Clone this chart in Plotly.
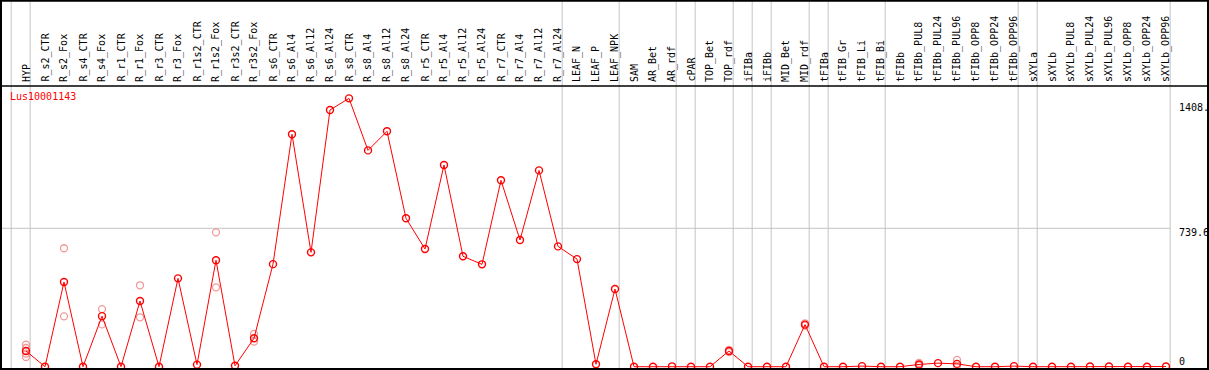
import plotly.graph_objects as go

categories = ["HYP", "R_s2_CTR", "R_s2_Fox", "R_s4_CTR", "R_s4_Fox", "R_r1_CTR", "R_r1_Fox",
              "R_r3_CTR", "R_r3_Fox", "R_r1s2_CTR", "R_r1s2_Fox", "R_r3s2_CTR", "R_r3s2_Fox",
              "R_s6_CTR", "R_s6_Al4", "R_s6_Al12", "R_s6_Al24", "R_s8_CTR", "R_s8_Al4",
              "R_s8_Al12", "R_s8_Al24", "R_r5_CTR", "R_r5_Al4", "R_r5_Al12", "R_r5_Al24",
              "R_r7_CTR", "R_r7_Al4", "R_r7_Al12", "R_r7_Al24", "LEAF_N", "LEAF_P", "LEAF_NPK",
              "SAM", "AR_Bet", "AR_rdf", "cPAR", "TOP_Bet", "TOP_rdf", "iFIBa", "iFIBb",
              "MID_Bet", "MID_rdf", "tFIBa", "tFIB_Gr", "tFIB_Li", "tFIB_Bi", "tFIBb",
              "tFIBb_PUL8", "tFIBb_PUL24", "tFIBb_PUL96", "tFIBb_OPP8", "tFIBb_OPP24",
              "tFIBb_OPP96", "sXYLa", "sXYLb", "sXYLb_PUL8", "sXYLb_PUL24", "sXYLb_PUL96",
              "sXYLb_OPP8", "sXYLb_OPP24", "sXYLb_OPP96"]

mean_values = [84, 0, 453, 0, 270, 0, 351, 0, 472, 11, 569, 5, 152,
               548, 1242, 611, 1372, 1434, 1156, 1258, 793, 629, 1078, 590, 547,
               996, 677, 1049, 643, 575, 13, 415,
               0, 0, 2, 0, 0, 84, 0, 0, 0, 225, 0, 0, 3, 0, 0,
               12, 19, 15, 0, 0, 3, 0, 0, 0, 1, 1, 0, 0, 1]

replicate_categories = ["HYP", "HYP", "HYP", "HYP", "R_s2_Fox", "R_s2_Fox", "R_s4_Fox", "R_s4_Fox",
                        "R_r1_Fox", "R_r1_Fox", "R_r1s2_Fox", "R_r1s2_Fox", "R_r3s2_Fox", "R_r3s2_Fox",
                        "TOP_rdf", "TOP_rdf", "MID_rdf", "MID_rdf", "tFIBb_PUL8", "tFIBb_PUL8",
                        "tFIBb_PUL96", "tFIBb_PUL96"]
replicate_values = [118, 100, 70, 52, 633, 269, 308, 226, 435, 264, 718, 424, 175, 134,
                    90, 78, 232, 220, 20, 6, 36, 6]

group_separators_after = [-1, 0, 28, 31, 34, 35, 37, 38, 39, 41, 42, 45, 52, 53, 60]
y_tick_values = [1408, 739.6, 0]
y_tick_labels = ["1408.", "739.6", "0"]
gene_id = "Lus10001143"

W, H = 1209, 370
L, R, T, B = 1, 1, 86, 1
PW, PH = W - L - R, H - T - B
x_px0, x_scale = 26.0, 19.0
xmin = (L - x_px0) / x_scale
xmax = xmin + PW / x_scale
y_zero_px, y_scale = 366.7, 0.18713
ymin = -((H - B) - y_zero_px) / y_scale
ymax = (y_zero_px - T) / y_scale

idx = {c: i for i, c in enumerate(categories)}
FONT = "DejaVu Sans Mono"


def py(p):
    return ((H - B) - p) / PH


def px(p):
    return (p - L) / PW


fig = go.Figure()
fig.add_trace(go.Scatter(
    x=[idx[c] for c in replicate_categories], y=replicate_values, mode="markers",
    marker=dict(symbol="circle-open", size=7, color="#f09a9a", line=dict(width=1.3, color="#f09a9a")),
    hoverinfo="skip", showlegend=False, cliponaxis=False))
fig.add_trace(go.Scatter(
    x=list(range(len(categories))), y=mean_values, mode="lines+markers",
    line=dict(color="#ff0000", width=1),
    marker=dict(symbol="circle-open", size=7, color="#ff0000", line=dict(width=1.4, color="#ff0000")),
    showlegend=False))

shapes = []
for s in group_separators_after:
    shapes.append(dict(type="line", xref="x", yref="paper", x0=s + 0.22, x1=s + 0.22,
                       y0=0, y1=py(0), line=dict(color="#c4c4c4", width=1), layer="below"))
shapes.append(dict(type="line", xref="paper", yref="y", x0=0, x1=px(x_px0 + (60.22) * x_scale),
                   y0=739.6, y1=739.6, line=dict(color="#c4c4c4", width=1), layer="below"))
# frame and header separator
shapes.append(dict(type="rect", xref="paper", yref="paper", x0=px(1), x1=px(1208),
                   y0=py(369), y1=py(0.8), line=dict(color="black", width=2)))
shapes.append(dict(type="line", xref="paper", yref="paper", x0=px(1), x1=px(1208),
                   y0=1, y1=1, line=dict(color="black", width=1.5)))

annotations = []
for i, c in enumerate(categories):
    annotations.append(dict(x=i, xref="x", y=1, yref="paper", yshift=2, text=c, showarrow=False,
                            textangle=-90, xanchor="center", yanchor="bottom",
                            font=dict(family=FONT, size=10, color="black")))
shifts = [-4, -4.4, 5]
for v, t, s in zip(y_tick_values, y_tick_labels, shifts):
    annotations.append(dict(x=px(1177), xref="paper", y=v, yref="y", yshift=s, text=t,
                            showarrow=False, xanchor="left", yanchor="middle",
                            font=dict(family=FONT, size=10, color="black")))
annotations.append(dict(x=px(8), xref="paper", y=py(96.7), yref="paper", text=gene_id,
                        showarrow=False, xanchor="left", yanchor="middle",
                        font=dict(family=FONT, size=10, color="#ff0000")))

fig.update_layout(
    width=W, height=H, margin=dict(l=L, r=R, t=T, b=B),
    paper_bgcolor="white", plot_bgcolor="white",
    xaxis=dict(range=[xmin, xmax], visible=False, showgrid=False, zeroline=False),
    yaxis=dict(range=[ymin, ymax], visible=False, showgrid=False, zeroline=False),
    shapes=shapes, annotations=annotations, showlegend=False,
)
fig.write_html("out.html", config={"displayModeBar": False},
               post_script="document.body.style.margin='0';document.body.style.overflow='hidden';")
